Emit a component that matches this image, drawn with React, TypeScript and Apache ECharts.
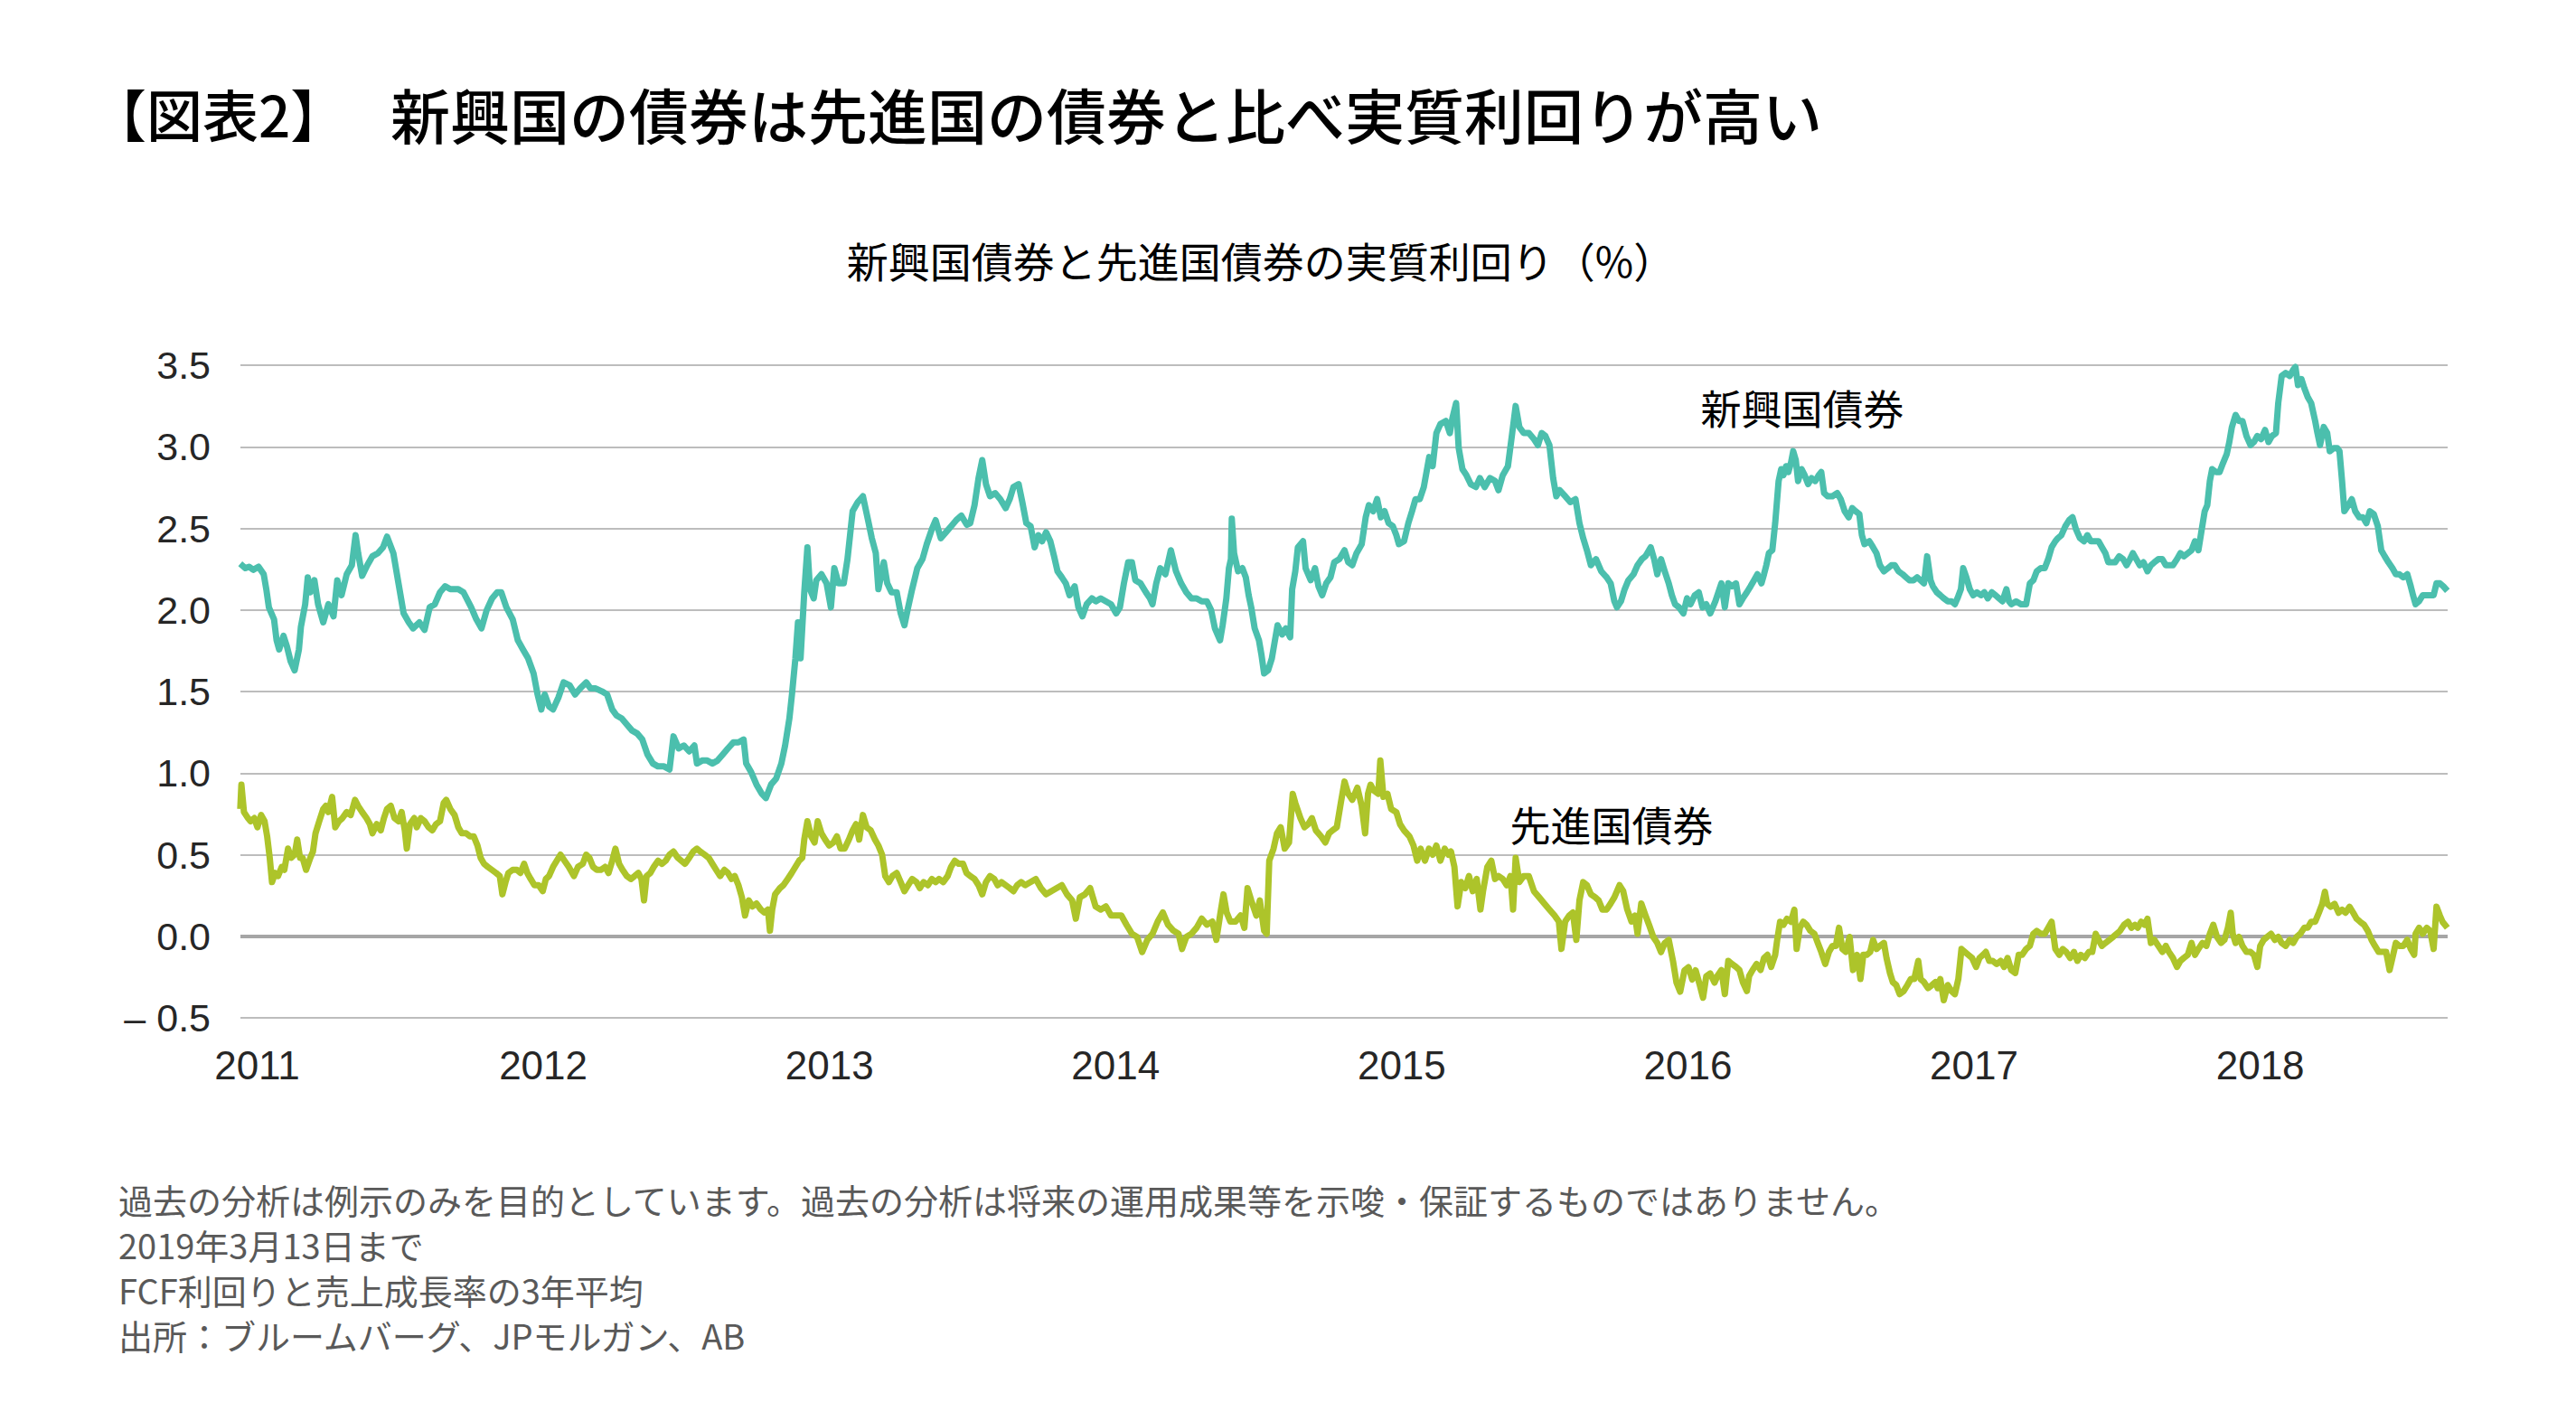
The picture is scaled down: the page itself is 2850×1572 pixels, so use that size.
import React, { useEffect, useRef } from "react";
import * as echarts from "echarts";

const TITLE_TAG = "【図表2】";
const TITLE = "新興国の債券は先進国の債券と比べ実質利回りが高い";
const SUBTITLE = "新興国債券と先進国債券の実質利回り（%）";
const EM_NAME = "新興国債券";
const DM_NAME = "先進国債券";
const FOOTNOTES = [
  "過去の分析は例示のみを目的としています。過去の分析は将来の運用成果等を示唆・保証するものではありません。",
  "2019年3月13日まで",
  "FCF利回りと売上成長率の3年平均",
  "出所：ブルームバーグ、JPモルガン、AB",
];

// y axis ticks
const Y_MIN = -0.5;
const Y_MAX = 3.5;
const Y_STEP = 0.5;
// x axis extent in decimal years
const X_START = 2010.9416;
const X_END = 2018.655;

// Emerging-market bonds: [decimal year, real yield %]
const EM_2011_2013: [number, number][] = [[2010.941,2.283],[2010.959,2.256],[2010.972,2.265],[2010.986,2.246],[2011.005,2.265],[2011.023,2.219],[2011.032,2.127],[2011.041,2.016],[2011.059,1.943],[2011.068,1.814],[2011.077,1.758],[2011.092,1.841],[2011.104,1.777],[2011.117,1.685],[2011.131,1.630],[2011.146,1.758],[2011.153,1.897],[2011.168,2.035],[2011.177,2.200],[2011.186,2.108],[2011.200,2.182],[2011.213,2.035],[2011.231,1.924],[2011.249,2.035],[2011.267,1.961],[2011.280,2.182],[2011.295,2.090],[2011.313,2.219],[2011.331,2.274],[2011.344,2.458],[2011.353,2.348],[2011.367,2.209],[2011.385,2.274],[2011.403,2.329],[2011.422,2.348],[2011.440,2.384],[2011.454,2.449],[2011.476,2.348],[2011.494,2.163],[2011.512,1.979],[2011.530,1.924],[2011.545,1.887],[2011.567,1.924],[2011.585,1.878],[2011.603,2.016],[2011.621,2.035],[2011.639,2.108],[2011.657,2.145],[2011.675,2.127],[2011.703,2.127],[2011.721,2.108],[2011.748,2.016],[2011.766,1.943],[2011.784,1.887],[2011.802,1.998],[2011.821,2.071],[2011.839,2.108],[2011.853,2.108],[2011.871,2.016],[2011.893,1.943],[2011.911,1.814],[2011.929,1.758],[2011.947,1.703],[2011.966,1.611],[2011.980,1.482],[2011.993,1.390],[2012.005,1.482],[2012.020,1.409],[2012.034,1.390],[2012.053,1.464],[2012.071,1.556],[2012.092,1.538],[2012.111,1.482],[2012.129,1.519],[2012.150,1.556],[2012.165,1.519],[2012.183,1.519],[2012.205,1.501],[2012.223,1.482],[2012.241,1.390],[2012.256,1.353],[2012.274,1.335],[2012.292,1.298],[2012.310,1.261],[2012.328,1.243],[2012.346,1.206],[2012.364,1.114],[2012.383,1.059],[2012.401,1.041],[2012.422,1.041],[2012.441,1.022],[2012.455,1.225],[2012.473,1.151],[2012.491,1.169],[2012.510,1.133],[2012.528,1.169],[2012.537,1.059],[2012.555,1.077],[2012.573,1.077],[2012.591,1.059],[2012.609,1.077],[2012.627,1.114],[2012.645,1.151],[2012.664,1.188],[2012.682,1.188],[2012.700,1.206],[2012.709,1.059],[2012.727,1.004],[2012.745,0.930],[2012.763,0.875],[2012.778,0.847],[2012.796,0.930],[2012.814,0.967],[2012.832,1.059],[2012.845,1.169],[2012.860,1.335],[2012.869,1.482],[2012.881,1.703],[2012.890,1.924],[2012.899,1.703],[2012.912,2.108],[2012.923,2.384],[2012.932,2.127],[2012.945,2.071],[2012.954,2.182],[2012.972,2.219],[2012.990,2.163],[2013.005,2.016],[2013.017,2.256],[2013.032,2.163],[2013.050,2.163],[2013.063,2.311],[2013.072,2.458],[2013.081,2.605],[2013.099,2.661],[2013.117,2.697],[2013.135,2.550],[2013.148,2.440],[2013.162,2.348],[2013.171,2.127],[2013.190,2.292],[2013.202,2.163],[2013.217,2.108],[2013.235,2.108],[2013.249,1.979],[2013.262,1.906],[2013.275,2.016],[2013.289,2.127],[2013.307,2.256],[2013.325,2.311],[2013.340,2.403],[2013.358,2.495],[2013.371,2.550],[2013.389,2.440],[2013.407,2.476],[2013.425,2.513],[2013.443,2.550],[2013.461,2.578],[2013.480,2.522],[2013.492,2.532],[2013.507,2.642],[2013.521,2.808],[2013.534,2.918],[2013.547,2.771],[2013.561,2.697],[2013.579,2.716],[2013.597,2.679],[2013.616,2.624],[2013.630,2.679],[2013.643,2.753],[2013.661,2.771],[2013.674,2.661],[2013.688,2.532]];

const EM_2013_2016: [number, number][] = [[2013.703,2.513],[2013.717,2.384],[2013.730,2.458],[2013.743,2.421],[2013.757,2.476],[2013.772,2.421],[2013.785,2.329],[2013.797,2.237],[2013.812,2.200],[2013.826,2.163],[2013.839,2.090],[2013.857,2.145],[2013.870,2.016],[2013.884,1.961],[2013.899,2.035],[2013.917,2.071],[2013.931,2.053],[2013.948,2.071],[2013.966,2.053],[2013.984,2.035],[2014.002,1.979],[2014.015,2.016],[2014.029,2.163],[2014.044,2.292],[2014.057,2.292],[2014.069,2.182],[2014.087,2.163],[2014.106,2.108],[2014.120,2.071],[2014.129,2.035],[2014.142,2.163],[2014.156,2.256],[2014.174,2.219],[2014.193,2.366],[2014.211,2.237],[2014.229,2.163],[2014.247,2.108],[2014.265,2.071],[2014.283,2.071],[2014.301,2.053],[2014.319,2.053],[2014.334,1.998],[2014.347,1.887],[2014.365,1.814],[2014.374,1.906],[2014.387,2.071],[2014.396,2.256],[2014.403,2.311],[2014.406,2.559],[2014.414,2.348],[2014.428,2.237],[2014.443,2.256],[2014.455,2.200],[2014.465,2.090],[2014.474,2.016],[2014.486,1.887],[2014.501,1.814],[2014.510,1.722],[2014.519,1.611],[2014.533,1.630],[2014.546,1.703],[2014.555,1.795],[2014.566,1.906],[2014.582,1.850],[2014.595,1.887],[2014.610,1.832],[2014.617,2.127],[2014.628,2.237],[2014.637,2.384],[2014.655,2.421],[2014.664,2.256],[2014.682,2.182],[2014.697,2.256],[2014.709,2.145],[2014.722,2.090],[2014.736,2.163],[2014.751,2.200],[2014.764,2.292],[2014.782,2.311],[2014.800,2.366],[2014.813,2.292],[2014.827,2.274],[2014.842,2.348],[2014.860,2.403],[2014.874,2.568],[2014.885,2.642],[2014.900,2.605],[2014.914,2.679],[2014.927,2.568],[2014.940,2.605],[2014.954,2.532],[2014.969,2.513],[2014.981,2.458],[2014.990,2.403],[2015.008,2.421],[2015.023,2.532],[2015.036,2.605],[2015.048,2.679],[2015.063,2.679],[2015.077,2.753],[2015.096,2.937],[2015.108,2.881],[2015.121,3.084],[2015.135,3.139],[2015.154,3.158],[2015.168,3.084],[2015.177,3.176],[2015.190,3.268],[2015.199,2.992],[2015.212,2.863],[2015.226,2.826],[2015.241,2.771],[2015.259,2.753],[2015.273,2.808],[2015.290,2.753],[2015.308,2.808],[2015.326,2.790],[2015.338,2.734],[2015.353,2.826],[2015.371,2.881],[2015.386,3.084],[2015.398,3.250],[2015.411,3.121],[2015.426,3.084],[2015.444,3.084],[2015.462,3.047],[2015.476,3.010],[2015.489,3.084],[2015.502,3.066],[2015.516,3.010],[2015.529,2.808],[2015.540,2.697],[2015.552,2.734],[2015.571,2.697],[2015.589,2.661],[2015.607,2.679],[2015.621,2.532],[2015.634,2.440],[2015.647,2.366],[2015.661,2.274],[2015.679,2.311],[2015.697,2.237],[2015.716,2.200],[2015.730,2.163],[2015.743,2.053],[2015.752,2.016],[2015.766,2.053],[2015.779,2.127],[2015.792,2.182],[2015.810,2.219],[2015.824,2.274],[2015.839,2.311],[2015.852,2.329],[2015.870,2.384],[2015.882,2.311],[2015.893,2.219],[2015.906,2.311],[2015.919,2.237],[2015.933,2.163],[2015.944,2.090],[2015.955,2.035],[2015.969,2.016],[2015.984,1.979],[2015.997,2.071],[2016.009,2.035],[2016.024,2.090],[2016.038,2.108],[2016.051,2.016],[2016.064,2.035],[2016.078,1.979],[2016.096,2.053]];

const EM_2016_2018: [number, number][] = [[2016.117,2.163],[2016.129,2.016],[2016.141,2.163],[2016.154,2.145],[2016.168,2.163],[2016.180,2.035],[2016.192,2.071],[2016.206,2.108],[2016.219,2.145],[2016.231,2.182],[2016.243,2.219],[2016.257,2.163],[2016.266,2.219],[2016.274,2.274],[2016.283,2.348],[2016.295,2.366],[2016.305,2.532],[2016.317,2.790],[2016.326,2.863],[2016.334,2.826],[2016.343,2.881],[2016.351,2.845],[2016.360,2.900],[2016.368,2.973],[2016.377,2.918],[2016.385,2.790],[2016.397,2.863],[2016.408,2.826],[2016.420,2.771],[2016.432,2.808],[2016.445,2.790],[2016.457,2.826],[2016.466,2.845],[2016.476,2.716],[2016.488,2.697],[2016.505,2.697],[2016.522,2.716],[2016.534,2.679],[2016.548,2.605],[2016.562,2.568],[2016.574,2.624],[2016.586,2.605],[2016.599,2.587],[2016.608,2.458],[2016.617,2.403],[2016.634,2.421],[2016.647,2.384],[2016.659,2.348],[2016.671,2.274],[2016.685,2.237],[2016.699,2.256],[2016.711,2.274],[2016.723,2.274],[2016.736,2.237],[2016.750,2.219],[2016.762,2.200],[2016.774,2.182],[2016.788,2.182],[2016.801,2.200],[2016.813,2.182],[2016.825,2.163],[2016.836,2.329],[2016.848,2.182],[2016.856,2.145],[2016.870,2.108],[2016.882,2.090],[2016.894,2.071],[2016.908,2.053],[2016.921,2.053],[2016.933,2.035],[2016.942,2.071],[2016.954,2.127],[2016.962,2.256],[2016.973,2.200],[2016.985,2.127],[2016.997,2.090],[2017.010,2.108],[2017.024,2.090],[2017.036,2.108],[2017.048,2.071],[2017.062,2.108],[2017.075,2.090],[2017.087,2.071],[2017.099,2.053],[2017.113,2.127],[2017.122,2.053],[2017.130,2.035],[2017.147,2.053],[2017.164,2.035],[2017.182,2.035],[2017.195,2.163],[2017.207,2.182],[2017.219,2.237],[2017.233,2.256],[2017.247,2.256],[2017.259,2.311],[2017.271,2.384],[2017.284,2.421],[2017.293,2.440],[2017.305,2.458],[2017.319,2.513],[2017.332,2.550],[2017.344,2.568],[2017.356,2.495],[2017.370,2.440],[2017.384,2.421],[2017.396,2.458],[2017.408,2.421],[2017.421,2.421],[2017.435,2.421],[2017.447,2.384],[2017.459,2.348],[2017.469,2.292],[2017.481,2.292],[2017.493,2.292],[2017.507,2.329],[2017.521,2.311],[2017.533,2.274],[2017.545,2.311],[2017.555,2.348],[2017.567,2.311],[2017.579,2.274],[2017.592,2.292],[2017.606,2.237],[2017.618,2.274],[2017.630,2.292],[2017.644,2.311],[2017.658,2.311],[2017.670,2.274],[2017.681,2.274],[2017.695,2.274],[2017.709,2.311],[2017.721,2.348],[2017.733,2.329],[2017.747,2.348],[2017.760,2.366],[2017.772,2.421],[2017.784,2.366],[2017.794,2.476],[2017.806,2.605],[2017.815,2.642],[2017.824,2.790],[2017.832,2.863],[2017.846,2.845],[2017.858,2.845],[2017.870,2.900],[2017.883,2.955],[2017.892,3.029],[2017.901,3.121],[2017.914,3.195],[2017.926,3.158],[2017.938,3.158],[2017.952,3.066],[2017.966,3.010],[2017.978,3.029],[2017.990,3.066],[2018.003,3.047],[2018.017,3.103],[2018.029,3.029],[2018.041,3.066],[2018.055,3.084],[2018.063,3.268],[2018.075,3.434],[2018.089,3.452],[2018.103,3.434],[2018.115,3.471],[2018.123,3.489],[2018.132,3.378],[2018.144,3.415],[2018.154,3.360],[2018.166,3.305],[2018.178,3.268],[2018.192,3.158],[2018.200,3.084],[2018.209,3.010],[2018.222,3.121],[2018.234,3.084],[2018.243,2.973],[2018.257,2.992],[2018.269,2.992],[2018.277,2.973],[2018.286,2.790],[2018.294,2.605],[2018.308,2.642],[2018.320,2.679],[2018.332,2.605],[2018.346,2.568],[2018.359,2.568],[2018.371,2.532],[2018.383,2.605],[2018.397,2.587],[2018.411,2.513],[2018.423,2.366],[2018.435,2.329],[2018.448,2.292],[2018.462,2.256],[2018.474,2.219],[2018.486,2.219],[2018.500,2.200],[2018.514,2.219],[2018.526,2.145],[2018.534,2.090],[2018.543,2.035],[2018.555,2.053],[2018.568,2.090],[2018.582,2.090],[2018.594,2.090],[2018.606,2.090],[2018.616,2.163],[2018.628,2.163],[2018.640,2.145],[2018.654,2.117]];

// Developed-market bonds: [decimal year, real yield %]
const DM_2011_2013: [number, number][] = [[2010.941,0.780],[2010.945,0.929],[2010.954,0.761],[2010.968,0.724],[2010.977,0.705],[2010.990,0.724],[2011.001,0.668],[2011.014,0.743],[2011.026,0.705],[2011.035,0.612],[2011.044,0.481],[2011.052,0.332],[2011.063,0.388],[2011.073,0.369],[2011.086,0.425],[2011.095,0.407],[2011.108,0.537],[2011.119,0.481],[2011.131,0.500],[2011.140,0.593],[2011.150,0.481],[2011.159,0.481],[2011.171,0.407],[2011.186,0.481],[2011.195,0.519],[2011.204,0.631],[2011.217,0.705],[2011.231,0.780],[2011.240,0.799],[2011.249,0.761],[2011.262,0.854],[2011.273,0.668],[2011.286,0.705],[2011.298,0.724],[2011.313,0.761],[2011.327,0.743],[2011.342,0.836],[2011.353,0.799],[2011.367,0.761],[2011.382,0.724],[2011.394,0.687],[2011.403,0.631],[2011.418,0.687],[2011.432,0.649],[2011.443,0.724],[2011.454,0.780],[2011.467,0.799],[2011.480,0.724],[2011.494,0.705],[2011.505,0.761],[2011.516,0.649],[2011.523,0.537],[2011.534,0.687],[2011.549,0.724],[2011.558,0.668],[2011.572,0.724],[2011.585,0.705],[2011.599,0.668],[2011.612,0.649],[2011.625,0.687],[2011.639,0.705],[2011.652,0.817],[2011.661,0.836],[2011.675,0.780],[2011.690,0.743],[2011.703,0.668],[2011.715,0.631],[2011.730,0.631],[2011.744,0.612],[2011.757,0.612],[2011.770,0.556],[2011.781,0.481],[2011.793,0.444],[2011.806,0.425],[2011.820,0.407],[2011.835,0.388],[2011.848,0.369],[2011.857,0.257],[2011.868,0.332],[2011.878,0.388],[2011.893,0.407],[2011.908,0.407],[2011.920,0.388],[2011.933,0.444],[2011.944,0.388],[2011.956,0.351],[2011.969,0.313],[2011.984,0.313],[2011.998,0.276],[2012.009,0.351],[2012.020,0.369],[2012.034,0.425],[2012.047,0.463],[2012.060,0.500],[2012.074,0.463],[2012.089,0.425],[2012.107,0.369],[2012.121,0.425],[2012.138,0.444],[2012.150,0.500],[2012.161,0.481],[2012.174,0.425],[2012.187,0.407],[2012.201,0.407],[2012.216,0.425],[2012.228,0.388],[2012.241,0.463],[2012.252,0.537],[2012.265,0.444],[2012.277,0.407],[2012.292,0.369],[2012.306,0.351],[2012.319,0.369],[2012.332,0.388],[2012.343,0.351],[2012.352,0.220],[2012.361,0.369],[2012.374,0.388],[2012.386,0.425],[2012.401,0.463],[2012.415,0.444],[2012.428,0.463],[2012.441,0.500],[2012.455,0.519],[2012.470,0.481],[2012.482,0.463],[2012.495,0.444],[2012.510,0.481],[2012.524,0.519],[2012.537,0.537],[2012.549,0.519],[2012.564,0.500],[2012.578,0.481],[2012.591,0.444],[2012.604,0.407],[2012.618,0.369],[2012.633,0.407],[2012.645,0.388],[2012.658,0.351],[2012.669,0.369],[2012.682,0.313],[2012.694,0.239],[2012.705,0.127],[2012.718,0.220],[2012.731,0.183],[2012.745,0.201],[2012.760,0.164],[2012.772,0.146],[2012.785,0.164],[2012.792,0.034],[2012.800,0.164],[2012.810,0.257],[2012.827,0.295],[2012.839,0.313],[2012.854,0.351],[2012.868,0.388],[2012.881,0.425],[2012.894,0.463],[2012.905,0.481],[2012.912,0.593],[2012.923,0.705],[2012.936,0.612],[2012.948,0.575],[2012.959,0.705],[2012.972,0.631],[2012.985,0.593],[2012.999,0.556],[2013.014,0.575],[2013.026,0.612],[2013.039,0.537],[2013.053,0.537],[2013.068,0.593],[2013.081,0.649],[2013.093,0.687],[2013.104,0.593],[2013.117,0.743],[2013.130,0.668],[2013.144,0.649],[2013.159,0.593],[2013.171,0.556],[2013.184,0.500],[2013.195,0.369],[2013.208,0.332],[2013.220,0.369],[2013.235,0.388],[2013.249,0.332],[2013.262,0.276],[2013.275,0.313],[2013.289,0.351],[2013.304,0.332],[2013.316,0.295],[2013.329,0.332],[2013.344,0.313],[2013.358,0.351],[2013.371,0.332],[2013.383,0.351],[2013.398,0.332],[2013.413,0.369],[2013.425,0.425],[2013.438,0.463],[2013.452,0.444],[2013.467,0.444],[2013.479,0.388],[2013.492,0.369],[2013.507,0.351],[2013.521,0.313],[2013.534,0.257],[2013.547,0.332],[2013.561,0.369],[2013.576,0.351],[2013.588,0.313],[2013.601,0.332],[2013.616,0.313],[2013.630,0.295],[2013.643,0.276],[2013.656,0.313],[2013.670,0.332],[2013.684,0.313]];

const DM_2013_2016: [number, number][] = [[2013.703,0.332],[2013.721,0.351],[2013.739,0.295],[2013.757,0.257],[2013.775,0.276],[2013.794,0.295],[2013.812,0.313],[2013.830,0.257],[2013.848,0.220],[2013.861,0.108],[2013.875,0.239],[2013.893,0.257],[2013.911,0.295],[2013.930,0.183],[2013.948,0.164],[2013.966,0.183],[2013.984,0.127],[2014.002,0.127],[2014.020,0.127],[2014.038,0.071],[2014.057,0.015],[2014.075,-0.004],[2014.093,-0.097],[2014.111,-0.022],[2014.129,0.015],[2014.147,0.090],[2014.165,0.146],[2014.183,0.071],[2014.202,0.034],[2014.220,0.015],[2014.232,-0.078],[2014.247,-0.004],[2014.265,0.015],[2014.283,0.052],[2014.301,0.108],[2014.319,0.071],[2014.338,0.090],[2014.352,-0.022],[2014.365,0.127],[2014.377,0.257],[2014.388,0.146],[2014.401,0.090],[2014.419,0.090],[2014.437,0.127],[2014.450,0.052],[2014.461,0.295],[2014.474,0.220],[2014.492,0.127],[2014.504,0.220],[2014.519,0.034],[2014.528,0.015],[2014.537,0.463],[2014.552,0.537],[2014.564,0.631],[2014.577,0.668],[2014.591,0.537],[2014.606,0.575],[2014.619,0.873],[2014.628,0.817],[2014.646,0.724],[2014.660,0.668],[2014.673,0.687],[2014.686,0.724],[2014.700,0.649],[2014.718,0.612],[2014.733,0.575],[2014.746,0.631],[2014.758,0.649],[2014.773,0.668],[2014.787,0.817],[2014.800,0.948],[2014.813,0.873],[2014.827,0.836],[2014.845,0.910],[2014.860,0.799],[2014.872,0.631],[2014.882,0.873],[2014.891,0.929],[2014.903,0.892],[2014.918,0.873],[2014.925,1.078],[2014.936,0.854],[2014.950,0.873],[2014.963,0.780],[2014.981,0.761],[2014.994,0.687],[2015.008,0.649],[2015.027,0.612],[2015.041,0.556],[2015.054,0.463],[2015.066,0.537],[2015.081,0.463],[2015.095,0.537],[2015.108,0.500],[2015.121,0.556],[2015.135,0.463],[2015.150,0.537],[2015.163,0.500],[2015.172,0.519],[2015.184,0.425],[2015.195,0.183],[2015.208,0.332],[2015.222,0.295],[2015.235,0.369],[2015.248,0.276],[2015.262,0.351],[2015.275,0.164],[2015.284,0.276],[2015.299,0.425],[2015.313,0.463],[2015.326,0.351],[2015.338,0.369],[2015.353,0.351],[2015.367,0.313],[2015.380,0.369],[2015.389,0.164],[2015.398,0.481],[2015.411,0.332],[2015.426,0.369],[2015.444,0.369],[2015.462,0.276],[2015.480,0.239],[2015.498,0.201],[2015.516,0.164],[2015.534,0.127],[2015.549,0.090],[2015.558,-0.078],[2015.571,0.090],[2015.585,0.127],[2015.598,0.146],[2015.610,-0.022],[2015.621,0.220],[2015.634,0.332],[2015.647,0.313],[2015.661,0.257],[2015.676,0.239],[2015.688,0.220],[2015.701,0.164],[2015.716,0.164],[2015.730,0.201],[2015.743,0.239],[2015.761,0.313],[2015.774,0.276],[2015.788,0.164],[2015.803,0.090],[2015.815,0.127],[2015.824,0.015],[2015.837,0.201],[2015.852,0.127],[2015.864,0.071],[2015.879,-0.004],[2015.893,-0.041],[2015.906,-0.097],[2015.919,-0.041],[2015.933,-0.022],[2015.948,-0.153],[2015.960,-0.284],[2015.973,-0.340],[2015.988,-0.209],[2016.002,-0.190],[2016.015,-0.265],[2016.027,-0.209],[2016.042,-0.302],[2016.053,-0.377],[2016.064,-0.246],[2016.078,-0.228],[2016.093,-0.284]];

const DM_2016_2018: [number, number][] = [[2016.103,-0.244],[2016.117,-0.207],[2016.129,-0.355],[2016.141,-0.151],[2016.154,-0.170],[2016.168,-0.188],[2016.180,-0.207],[2016.192,-0.281],[2016.206,-0.336],[2016.214,-0.244],[2016.226,-0.207],[2016.240,-0.170],[2016.254,-0.207],[2016.266,-0.133],[2016.278,-0.114],[2016.291,-0.188],[2016.305,-0.114],[2016.312,-0.022],[2016.322,0.089],[2016.334,0.070],[2016.346,0.107],[2016.360,0.089],[2016.372,0.163],[2016.380,-0.078],[2016.391,0.052],[2016.403,0.089],[2016.415,0.070],[2016.428,0.033],[2016.442,0.015],[2016.454,-0.041],[2016.466,-0.096],[2016.480,-0.170],[2016.493,-0.096],[2016.505,-0.059],[2016.517,-0.059],[2016.528,0.052],[2016.540,-0.078],[2016.552,-0.096],[2016.565,-0.004],[2016.577,-0.207],[2016.591,-0.114],[2016.603,-0.262],[2016.613,-0.114],[2016.625,-0.114],[2016.637,-0.096],[2016.647,-0.022],[2016.659,-0.078],[2016.671,-0.059],[2016.685,-0.041],[2016.694,-0.133],[2016.706,-0.225],[2016.716,-0.281],[2016.728,-0.299],[2016.740,-0.355],[2016.754,-0.336],[2016.767,-0.299],[2016.779,-0.262],[2016.791,-0.262],[2016.805,-0.151],[2016.813,-0.262],[2016.825,-0.281],[2016.839,-0.318],[2016.853,-0.299],[2016.865,-0.281],[2016.873,-0.318],[2016.882,-0.262],[2016.894,-0.392],[2016.908,-0.299],[2016.921,-0.336],[2016.933,-0.355],[2016.945,-0.262],[2016.956,-0.078],[2016.968,-0.096],[2016.980,-0.114],[2016.993,-0.133],[2017.007,-0.188],[2017.019,-0.133],[2017.031,-0.114],[2017.041,-0.096],[2017.053,-0.151],[2017.065,-0.151],[2017.079,-0.170],[2017.093,-0.151],[2017.105,-0.188],[2017.117,-0.133],[2017.130,-0.207],[2017.144,-0.225],[2017.156,-0.114],[2017.168,-0.114],[2017.182,-0.078],[2017.195,-0.059],[2017.207,0.015],[2017.219,0.033],[2017.233,0.015],[2017.247,0.015],[2017.259,0.052],[2017.271,0.089],[2017.284,-0.078],[2017.298,-0.114],[2017.310,-0.078],[2017.322,-0.096],[2017.336,-0.133],[2017.349,-0.096],[2017.361,-0.151],[2017.373,-0.114],[2017.387,-0.133],[2017.401,-0.096],[2017.413,-0.096],[2017.425,0.015],[2017.435,-0.022],[2017.447,-0.059],[2017.459,-0.041],[2017.473,-0.022],[2017.486,-0.004],[2017.498,0.015],[2017.510,0.033],[2017.524,0.070],[2017.538,0.089],[2017.550,0.052],[2017.562,0.070],[2017.572,0.052],[2017.584,0.089],[2017.596,0.070],[2017.606,0.107],[2017.618,-0.041],[2017.630,-0.022],[2017.644,-0.059],[2017.658,-0.096],[2017.670,-0.059],[2017.681,-0.096],[2017.695,-0.133],[2017.709,-0.188],[2017.721,-0.151],[2017.733,-0.133],[2017.747,-0.114],[2017.760,-0.041],[2017.772,-0.114],[2017.784,-0.078],[2017.798,-0.041],[2017.812,-0.059],[2017.824,0.015],[2017.836,0.070],[2017.849,-0.004],[2017.863,-0.041],[2017.875,-0.022],[2017.887,0.052],[2017.897,0.144],[2017.904,0.015],[2017.914,-0.041],[2017.926,-0.004],[2017.938,-0.059],[2017.952,-0.096],[2017.966,-0.096],[2017.978,-0.114],[2017.990,-0.188],[2018.000,-0.059],[2018.012,-0.022],[2018.024,-0.004],[2018.038,0.015],[2018.051,-0.022],[2018.063,-0.004],[2018.075,-0.041],[2018.089,-0.059],[2018.103,-0.022],[2018.115,-0.041],[2018.127,-0.004],[2018.140,0.015],[2018.154,0.052],[2018.166,0.052],[2018.178,0.089],[2018.192,0.089],[2018.205,0.144],[2018.217,0.199],[2018.226,0.273],[2018.234,0.199],[2018.246,0.181],[2018.260,0.199],[2018.274,0.144],[2018.286,0.163],[2018.298,0.144],[2018.312,0.181],[2018.325,0.144],[2018.337,0.107],[2018.349,0.089],[2018.363,0.070],[2018.376,0.033],[2018.389,-0.022],[2018.401,-0.059],[2018.414,-0.096],[2018.428,-0.096],[2018.440,-0.096],[2018.452,-0.207],[2018.462,-0.133],[2018.474,-0.041],[2018.486,-0.059],[2018.500,-0.059],[2018.514,-0.022],[2018.526,-0.078],[2018.538,-0.114],[2018.543,0.015],[2018.555,0.052],[2018.568,0.015],[2018.582,0.052],[2018.594,0.033],[2018.606,-0.078],[2018.616,0.181],[2018.628,0.126],[2018.637,0.089],[2018.654,0.052]];

const EM_DATA = [...EM_2011_2013, ...EM_2013_2016, ...EM_2016_2018];
const DM_DATA = [...DM_2011_2013, ...DM_2013_2016, ...DM_2016_2018];

const CJK = '"Noto Sans CJK JP", "Noto Sans", sans-serif';
const LATIN = '"Liberation Sans", Arial, sans-serif';
const EM_COLOR = "#4bbfad";
const DM_COLOR = "#adc42a";

function txt(text: string, x: number, y: number, size: number, fill: string, align: string = "left", weight: string = "normal") {
  return {
    type: "text",
    x,
    y,
    silent: true,
    style: {
      text,
      fontSize: size,
      fontFamily: CJK,
      fontWeight: weight,
      fill,
      textAlign: align,
      align,
      textVerticalAlign: "middle",
      verticalAlign: "middle",
    },
  };
}

export default function App() {
  const ref = useRef<HTMLDivElement>(null);
  useEffect(() => {
    if (!ref.current) return;
    const chart = echarts.init(ref.current, null, { renderer: "svg" });
    const option: any = {
      animation: false,
      backgroundColor: "#ffffff",
      grid: { left: 266, right: 142, top: 404, bottom: 446 },
      xAxis: {
        type: "value",
        min: X_START,
        max: X_END,
        splitNumber: 8,
        axisLine: { show: false },
        axisTick: { show: false },
        splitLine: { show: false },
        axisLabel: {
          show: true,
          fontSize: 44,
          fontFamily: LATIN,
          color: "#262626",
          margin: 30,
          showMinLabel: false,
          showMaxLabel: false,
          formatter: (v: number) => {
            const r = Math.round(v);
            return Math.abs(v - r) < 1e-6 ? String(r) : "";
          },
        },
      },
      yAxis: {
        type: "value",
        min: Y_MIN,
        max: Y_MAX,
        interval: Y_STEP,
        axisLine: { show: false },
        axisTick: { show: false },
        splitLine: { show: true, lineStyle: { color: "#bdbdbd", width: 2 } },
        axisLabel: {
          fontSize: 43,
          fontFamily: LATIN,
          color: "#262626",
          margin: 33,
          formatter: (v: number) => (v < 0 ? "– " + Math.abs(v).toFixed(1) : v.toFixed(1)),
        },
      },
      series: [
        {
          name: EM_NAME,
          type: "line",
          data: EM_DATA,
          showSymbol: false,
          symbol: "none",
          z: 3,
          lineStyle: { color: EM_COLOR, width: 7, join: "round" },
          itemStyle: { color: EM_COLOR },
          emphasis: { disabled: true },
        },
        {
          name: DM_NAME,
          type: "line",
          data: DM_DATA,
          showSymbol: false,
          symbol: "none",
          z: 3,
          lineStyle: { color: DM_COLOR, width: 7, join: "round" },
          itemStyle: { color: DM_COLOR },
          emphasis: { disabled: true },
          markLine: {
            silent: true,
            z: 1,
            symbol: ["none", "none"],
            label: { show: false },
            lineStyle: { color: "#a6a6a6", width: 4, type: "solid" },
            emphasis: { disabled: true },
            data: [{ yAxis: 0 }],
          },
        },
      ],
      graphic: [
        txt(TITLE_TAG, 100, 125, 62, "#000000", "left", "500"),
        txt(TITLE, 432, 125, 66, "#000000", "left", "500"),
        txt(SUBTITLE, 1395, 287, 46, "#000000", "center"),
        txt(EM_NAME, 1994, 450, 45, "#000000", "center"),
        txt(DM_NAME, 1783, 911, 45, "#000000", "center"),
        ...FOOTNOTES.map((t, i) => txt(t, 131, 1326 + i * 50, 38, "#595959")),
      ],
    };
    chart.setOption(option);
    return () => chart.dispose();
  }, []);
  return (
    <div
      ref={ref}
      style={{ position: "fixed", left: 0, top: 0, width: 2850, height: 1572, background: "#fff" }}
    />
  );
}
